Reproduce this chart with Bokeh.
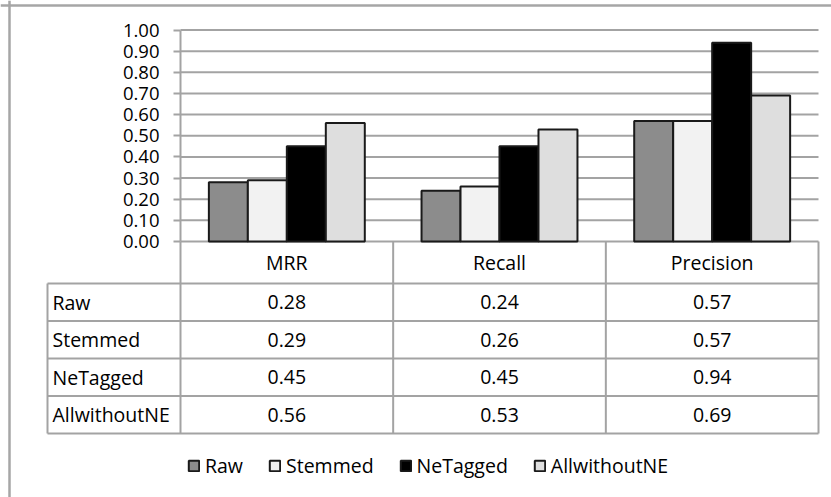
import numpy as np
from bokeh.plotting import figure
from bokeh.models import (Range1d, LinearAxis, FixedTicker, PrintfTickFormatter,
                          Legend, LegendItem, Span)
from bokeh.core.properties import value
from bokeh.embed import file_html
from bokeh.resources import INLINE

# ---------------- data ----------------
metrics = ["MRR", "Recall", "Precision"]
series = ["Raw", "Stemmed", "NeTagged", "AllwithoutNE"]
raw = [0.28, 0.24, 0.57]
stemmed = [0.29, 0.26, 0.57]
netagged = [0.45, 0.45, 0.94]
allwithoutne = [0.56, 0.53, 0.69]
y_ticks = [0.0, 0.1, 0.2, 0.3, 0.4, 0.5, 0.6, 0.7, 0.8, 0.9, 1.0]

values = [raw, stemmed, netagged, allwithoutne]
colors = ["#8c8c8c", "#f2f2f2", "#000000", "#dedede"]

# ---------------- layout (pixels) ----------------
W, H = 831, 497
AX_L, AX_R = 180.0, 818.0      # plot area left/right
Y0_PX, Y1_PX = 241.0, 29.5     # pixel of value 0 and 1
PX_X = (AX_R - AX_L) / len(metrics)
PX_Y = Y0_PX - Y1_PX


def xd(px):
    return -0.5 + (px - AX_L) / PX_X


def yd(py):
    return (Y0_PX - py) / PX_Y


FONT = value("Open Sans")
GRID = "#a3a3a3"
TXT = "#000000"
FS = "19.5px"

p = figure(width=W, height=H, output_backend="svg", toolbar_location=None,
           x_range=Range1d(xd(0), xd(W)), y_range=Range1d(yd(H), yd(0)),
           x_axis_type=None, y_axis_type=None,
           min_border=0, min_border_left=0, min_border_right=0,
           min_border_top=0, min_border_bottom=0)
p.outline_line_color = None
p.xgrid.visible = False
p.ygrid.visible = False
p.background_fill_color = "white"

# outer chart border (left and top visible)
p.add_layout(Span(location=xd(9), dimension="height", line_color="#a6a6a6", line_width=2.5))
p.add_layout(Span(location=yd(5), dimension="width", line_color="#a6a6a6", line_width=2.5))

# gridlines
n = len(metrics)
p.segment(x0=[-0.5] * len(y_ticks), x1=[n - 0.5] * len(y_ticks), y0=y_ticks, y1=y_ticks,
          line_color=GRID, line_width=2)

# bars
bar_w = 0.1833
cat_x = np.arange(n)
renderers = []
for i, (name, vals, col) in enumerate(zip(series, values, colors)):
    r = p.vbar(x=cat_x + (i - 1.5) * bar_w, top=vals, bottom=0, width=bar_w,
               fill_color=col, line_color="#1a1a1a", line_width=2)
    renderers.append(r)

# y axis drawn at the left edge of the plot area
yaxis = LinearAxis(fixed_location=-0.5, bounds=(0, 1),
                   ticker=FixedTicker(ticks=y_ticks),
                   formatter=PrintfTickFormatter(format="%.2f"))
yaxis.axis_line_color = GRID
yaxis.axis_line_width = 2
yaxis.major_tick_line_color = GRID
yaxis.major_tick_line_width = 2
yaxis.major_tick_out = 7
yaxis.major_tick_in = 0
yaxis.minor_tick_line_color = None
yaxis.major_label_standoff = 14
yaxis.major_label_text_font = "Open Sans"
yaxis.major_label_text_font_size = "18.5px"
yaxis.major_label_text_color = TXT
p.add_layout(yaxis, "left")

# ---------------- data table ----------------
HEAD_H = 42.0
ROW_H = 37.5
TBL_L = 47.0
head_bot = Y0_PX + HEAD_H
row_edges = [head_bot + k * ROW_H for k in range(len(series) + 1)]
col_edges = [-0.5 + k for k in range(n + 1)]

# horizontal lines
p.segment(x0=[xd(TBL_L)] * len(row_edges), x1=[n - 0.5] * len(row_edges),
          y0=[yd(v) for v in row_edges], y1=[yd(v) for v in row_edges],
          line_color=GRID, line_width=2)
# vertical lines
p.segment(x0=col_edges, x1=col_edges, y0=[0] * len(col_edges),
          y1=[yd(row_edges[-1])] * len(col_edges), line_color=GRID, line_width=2)
p.segment(x0=[xd(TBL_L)], x1=[xd(TBL_L)], y0=[yd(row_edges[0])], y1=[yd(row_edges[-1])],
          line_color=GRID, line_width=2)

# header labels
p.text(x=list(cat_x), y=[yd(Y0_PX + HEAD_H / 2)] * n, text=metrics,
       text_font=FONT, text_font_size=FS, text_color=TXT,
       text_align="center", text_baseline="middle")

# row labels and values
for j, (name, vals) in enumerate(zip(series, values)):
    yc = yd(row_edges[j] + ROW_H / 2)
    p.text(x=[xd(TBL_L + 5)], y=[yc], text=[name], text_font=FONT, text_font_size=FS,
           text_color=TXT, text_align="left", text_baseline="middle")
    p.text(x=list(cat_x), y=[yc] * n, text=["%.2f" % v for v in vals], text_font=FONT,
           text_font_size=FS, text_color=TXT, text_align="center", text_baseline="middle")

# ---------------- legend ----------------
legend = Legend(items=[LegendItem(label=s, renderers=[r]) for s, r in zip(series, renderers)],
                orientation="horizontal", location=(187, 18),
                border_line_color=None, background_fill_alpha=0,
                padding=0, margin=0, spacing=25, label_standoff=5,
                glyph_width=13, glyph_height=13,
                label_text_font="Open Sans", label_text_font_size=FS,
                label_text_color=TXT)
p.add_layout(legend)

open("out.html", "w").write(file_html(p, INLINE))
